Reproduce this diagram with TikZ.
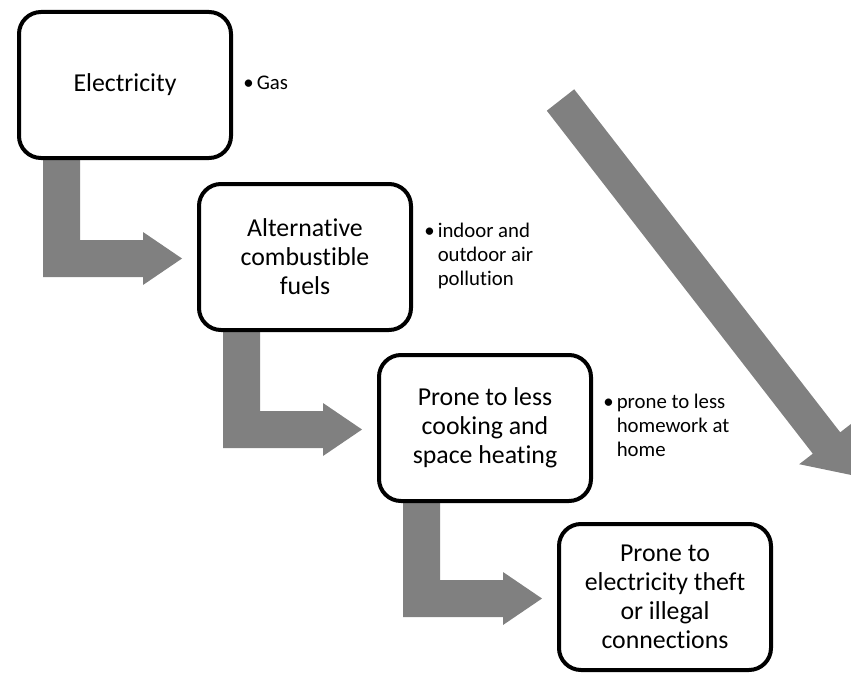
\documentclass[tikz,border=0pt]{standalone}
\usepackage{fontspec}
\setmainfont{Carlito}[Ligatures=NoCommon]
\usetikzlibrary{
    positioning,
    calc,
    backgrounds
}
\definecolor{FlowGray}{HTML}{808080}
\definecolor{BoxLine}{HTML}{000000}

\newcommand{\bentflow}[2]{%
    \fill[FlowGray]
        let \p1 = ($(#1.south)+(-63.5,0)$),
            \p2 = ($(#2.west)+(-15,1.5)$)
        in (\x1-9.25pt,\y1) -- (\x1+9.25pt,\y1)
        -- (\x1+9.25pt,\y2+9.25pt) -- (\x2-19.5pt,\y2+9.25pt)
        -- (\x2-19.5pt,\y2+13.25pt) -- (\x2,\y2)
        -- (\x2-19.5pt,\y2-13.25pt) -- (\x2-19.5pt,\y2-9.25pt)
        -- (\x1-9.25pt,\y2-9.25pt) -- cycle;%
}

\begin{document}
\begin{tikzpicture}[
    x=0.5pt, y=-0.5pt,
    stepbox/.style={
        draw=BoxLine,
        line width=2pt,
        rounded corners=11pt,
        fill=white,
        minimum width=106pt,
        minimum height=73pt,
        align=center,
        font=\fontsize{12.9}{14.5}\selectfont
    },
    note/.style={
        inner sep=0pt,
        font=\fontsize{10.4}{12}\selectfont
    }
]

    \useasboundingbox (0,0) rectangle (851,674);

    \node[stepbox] (elec) at (125,85) {Electricity};
    \node[stepbox] (alt) at (305,257) {Alternative\\combustible\\fuels};
    \node[stepbox] (cook) at (485,428) {Prone to less\\cooking and\\space heating};
    \node[stepbox] (theft) at (665,597) {Prone to\\electricity theft\\or illegal\\connections};

    \node[note, right=5pt of elec] (gasNote) {%
        \begin{tabular}{@{}l@{\hspace{1.5pt}}l@{}}
            \textbullet & Gas
        \end{tabular}};
    \node[note, right=5.5pt of alt] (pollNote) {%
        \begin{tabular}{@{}l@{\hspace{1.5pt}}l@{}}
            \textbullet & indoor and\\
                        & outdoor air\\
                        & pollution
        \end{tabular}};
    \node[note, right=5pt of cook] (homeNote) {%
        \begin{tabular}{@{}l@{\hspace{1.5pt}}l@{}}
            \textbullet & prone to less\\
                        & homework at\\
                        & home
        \end{tabular}};

    \begin{scope}[on background layer]
        \bentflow{elec}{alt}
        \bentflow{alt}{cook}
        \bentflow{cook}{theft}

        \fill[FlowGray]
            (546.8,110.7) -- (574.2,89.3) -- (840.2,432.3) -- (853.8,421.8)
            -- (851.3,475) -- (799.2,464.2) -- (812.8,453.7) -- cycle;
    \end{scope}

\end{tikzpicture}
\end{document}
